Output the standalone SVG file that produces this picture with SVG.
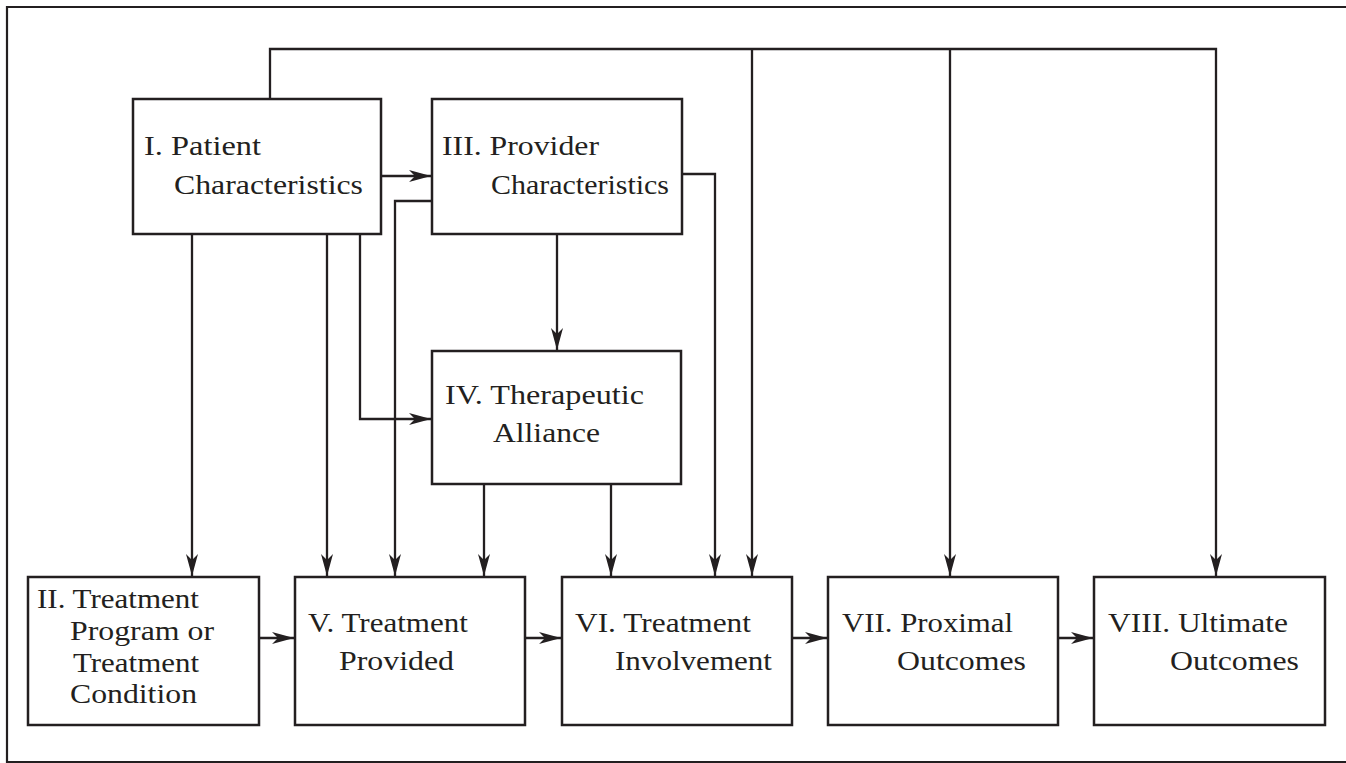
<svg xmlns="http://www.w3.org/2000/svg" width="1346" height="763" viewBox="0 0 1346 763">
<style>
.box{fill:#fff;stroke:#231f20;stroke-width:2.5}
.ln{fill:none;stroke:#231f20;stroke-width:2.3}
.t{font-family:"Liberation Serif","Times New Roman",serif;font-size:28px;fill:#231f20}
</style>
<defs>
<marker id="ah" viewBox="0 0 22 12" refX="22" refY="6" markerWidth="22" markerHeight="12" markerUnits="userSpaceOnUse" orient="auto">
<path d="M0,0 L22,6 L0,12 L6,6 Z" fill="#231f20"/>
</marker>
</defs>
<rect width="1346" height="763" fill="#fff"/>
<path d="M1346,7 H7 V762 H1346" fill="none" stroke="#231f20" stroke-width="2.2"/>
<g id="connectors" class="ln">
<path d="M270,99 V49 H1216 V576" marker-end="url(#ah)"/>
<path d="M752,49 V576" marker-end="url(#ah)"/>
<path d="M950,49 V576" marker-end="url(#ah)"/>
<path d="M381,176 H431" marker-end="url(#ah)"/>
<path d="M192,234 V576" marker-end="url(#ah)"/>
<path d="M327,234 V576" marker-end="url(#ah)"/>
<path d="M360,234 V419 H431" marker-end="url(#ah)"/>
<path d="M432,201 H395 V576" marker-end="url(#ah)"/>
<path d="M557,234 V350" marker-end="url(#ah)"/>
<path d="M484,484 V576" marker-end="url(#ah)"/>
<path d="M611,484 V576" marker-end="url(#ah)"/>
<path d="M682,174 H715 V576" marker-end="url(#ah)"/>
<path d="M259,638 H294" marker-end="url(#ah)"/>
<path d="M525,638 H561" marker-end="url(#ah)"/>
<path d="M792,638 H827" marker-end="url(#ah)"/>
<path d="M1058,638 H1093" marker-end="url(#ah)"/>
</g>
<g id="n1">
<rect class="box" x="133" y="99" width="248" height="135"/>
<text class="t" x="144" y="155" textLength="117" lengthAdjust="spacingAndGlyphs">I. Patient</text>
<text class="t" x="174" y="194" textLength="189" lengthAdjust="spacingAndGlyphs">Characteristics</text>
</g>
<g id="n3">
<rect class="box" x="432" y="99" width="250" height="135"/>
<text class="t" x="442" y="155" textLength="157" lengthAdjust="spacingAndGlyphs">III. Provider</text>
<text class="t" x="491" y="194" textLength="178" lengthAdjust="spacingAndGlyphs">Characteristics</text>
</g>
<g id="n4">
<rect class="box" x="432" y="351" width="249" height="133"/>
<text class="t" x="445" y="404" textLength="199" lengthAdjust="spacingAndGlyphs">IV. Therapeutic</text>
<text class="t" x="493" y="442" textLength="107" lengthAdjust="spacingAndGlyphs">Alliance</text>
</g>
<g id="n2">
<rect class="box" x="28" y="577" width="231" height="148"/>
<text class="t" x="37" y="608" textLength="162" lengthAdjust="spacingAndGlyphs">II. Treatment</text>
<text class="t" x="70" y="640" textLength="144" lengthAdjust="spacingAndGlyphs">Program or</text>
<text class="t" x="73" y="672" textLength="126" lengthAdjust="spacingAndGlyphs">Treatment</text>
<text class="t" x="70" y="703" textLength="127" lengthAdjust="spacingAndGlyphs">Condition</text>
</g>
<g id="n5">
<rect class="box" x="295" y="577" width="230" height="148"/>
<text class="t" x="308" y="632" textLength="160" lengthAdjust="spacingAndGlyphs">V. Treatment</text>
<text class="t" x="339" y="670" textLength="115" lengthAdjust="spacingAndGlyphs">Provided</text>
</g>
<g id="n6">
<rect class="box" x="562" y="577" width="230" height="148"/>
<text class="t" x="575" y="632" textLength="176" lengthAdjust="spacingAndGlyphs">VI. Treatment</text>
<text class="t" x="615" y="670" textLength="157" lengthAdjust="spacingAndGlyphs">Involvement</text>
</g>
<g id="n7">
<rect class="box" x="828" y="577" width="230" height="148"/>
<text class="t" x="842" y="632" textLength="171" lengthAdjust="spacingAndGlyphs">VII. Proximal</text>
<text class="t" x="897" y="670" textLength="129" lengthAdjust="spacingAndGlyphs">Outcomes</text>
</g>
<g id="n8">
<rect class="box" x="1094" y="577" width="231" height="148"/>
<text class="t" x="1108" y="632" textLength="180" lengthAdjust="spacingAndGlyphs">VIII. Ultimate</text>
<text class="t" x="1170" y="670" textLength="129" lengthAdjust="spacingAndGlyphs">Outcomes</text>
</g>
</svg>
